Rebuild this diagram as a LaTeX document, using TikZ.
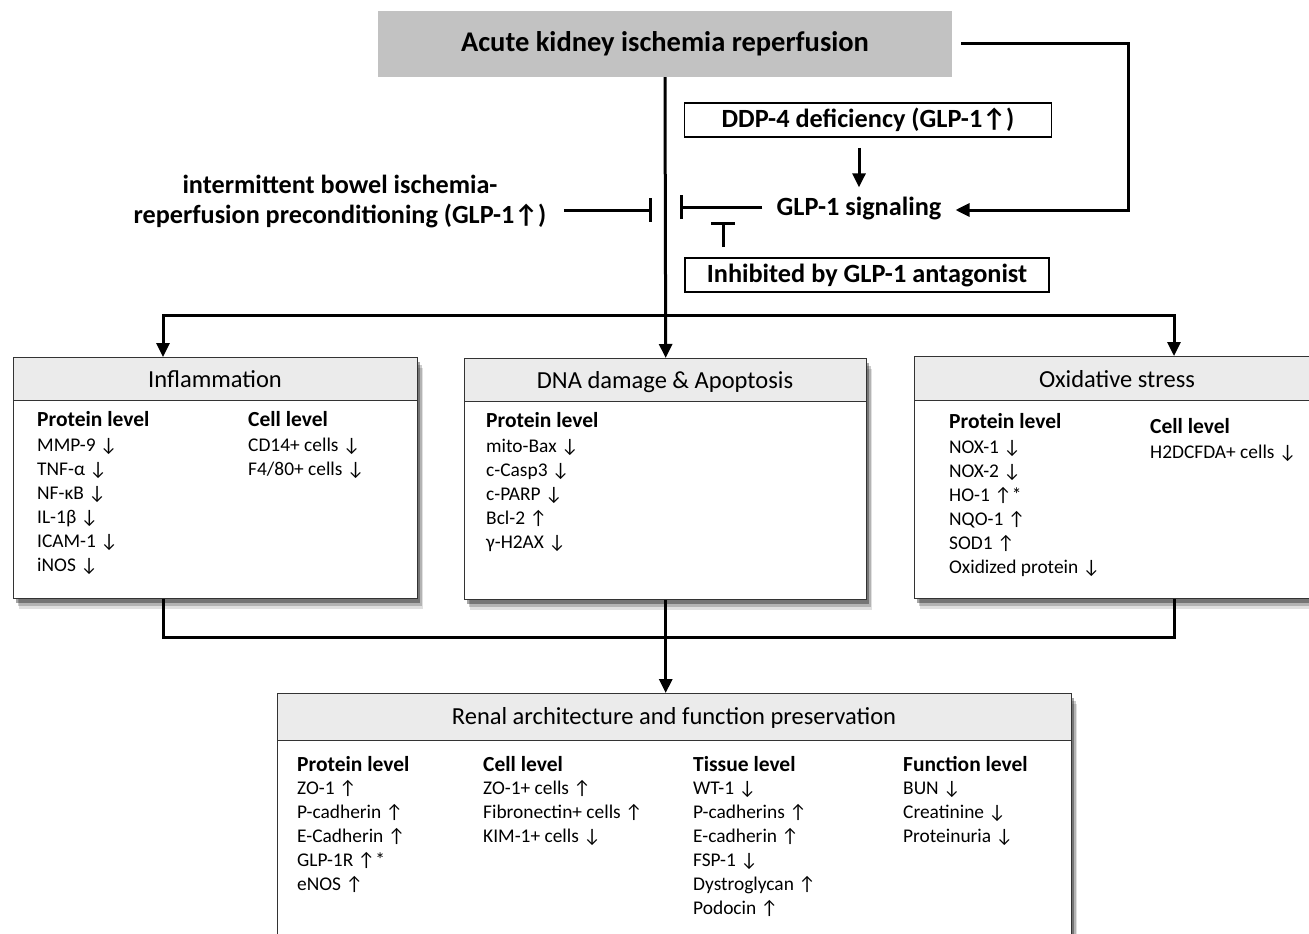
\documentclass[tikz,border=0pt]{standalone}
\usepackage{fontspec}
\setmainfont{Carlito}
\usetikzlibrary{arrows.meta,shadows}
\newcommand\dnarr{\char"2193}
\newcommand\uparr{\char"2191}
\newcommand\mkcol[6]{%
  \node[lvl] (#1h) at (#2,#3) {#5};
  \foreach \t [count=\i] in {#6} {\node[itm] (#1\i) at (#2,{#4+24*(\i-1)}) {\t};}%
}
\begin{document}
\begin{tikzpicture}[x=1pt,y=-1pt,
  conn/.style={line width=3pt, draw=black},
  arrowed/.style={-{Triangle[width=13pt,length=14pt]}},
  inhib/.style={-{Bar[width=24pt]}},
  panel/.style={draw=black!80, line width=1.4pt, fill=white, inner sep=0pt,
     drop shadow={shadow xshift=5pt, shadow yshift=-10pt, opacity=0.12, fill=black},
     drop shadow={shadow xshift=4pt, shadow yshift=-7pt, opacity=0.2, fill=black},
     drop shadow={shadow xshift=2pt, shadow yshift=-4pt, opacity=0.35, fill=black}},
  head/.style={draw=black!80, line width=1.4pt, fill=black!8, inner sep=0pt},
  ttl/.style={anchor=base, inner sep=0pt, font=\fontsize{24.5}{28}\selectfont},
  lvl/.style={anchor=base west, inner sep=0pt, font=\bfseries\fontsize{21.5}{24}\selectfont},
  itm/.style={anchor=base west, inner sep=0pt, font=\fontsize{19.4}{22}\selectfont},
  bbox/.style={draw=black, line width=1.6pt, inner sep=0pt, font=\bfseries\fontsize{26.3}{30}\selectfont}
]
\useasboundingbox (0,0) rectangle (1309,934);
\clip (0,0) rectangle (1309,934);

% top
\node[fill=black!24, minimum width=574pt, minimum height=66pt, inner sep=0pt,
      font=\bfseries\fontsize{28.5}{32}\selectfont] (akir) at (665,44) {Acute kidney ischemia reperfusion};
\node[bbox, minimum width=367pt, minimum height=34pt] (ddp) at (868,120) {DDP-4 deficiency (GLP-1\uparr)};
\node[inner xsep=14pt, inner ysep=3pt, font=\bfseries\fontsize{26.3}{30}\selectfont] (glp) at (859,208) {GLP-1 signaling};
\node[bbox, minimum width=364pt, minimum height=34pt] (anta) at (867,275) {Inhibited by GLP-1 antagonist};
\node[align=center, font=\bfseries\fontsize{26.2}{30}\selectfont] (ibip) at (340,202)
  {intermittent bowel ischemia-\\reperfusion preconditioning (GLP-1\uparr)};

% panels
\node[panel, anchor=north west, minimum width=404pt, minimum height=241pt] (infl) at (13,357) {};
\node[head, anchor=north west, minimum width=404pt, minimum height=43pt] (inflH) at (13,357) {};
\node[ttl] (inflT) at (215,387) {Inflammation};
\node[panel, anchor=north west, minimum width=402pt, minimum height=241pt] (dna) at (464,358) {};
\node[head, anchor=north west, minimum width=402pt, minimum height=43pt] (dnaH) at (464,358) {};
\node[ttl] (dnaT) at (665,388) {DNA damage \& Apoptosis};
\node[panel, anchor=north west, minimum width=406pt, minimum height=242pt] (ox) at (914,356) {};
\node[head, anchor=north west, minimum width=406pt, minimum height=44pt] (oxH) at (914,356) {};
\node[ttl] (oxT) at (1117,387) {Oxidative stress};
\node[panel, anchor=north west, minimum width=794pt, minimum height=270pt] (renal) at (277,693) {};
\node[head, anchor=north west, minimum width=794pt, minimum height=47pt] (renalH) at (277,693) {};
\node[ttl] (renalT) at (674,724) {Renal architecture and function preservation};

% contents
\mkcol{ip}{37}{426}{451}{Protein level}{MMP-9 \dnarr, TNF-α \dnarr, NF-κB \dnarr, IL-1β \dnarr, ICAM-1 \dnarr, iNOS \dnarr}
\mkcol{ic}{248}{426}{451}{Cell level}{CD14+ cells \dnarr, {F4/80+ cells \dnarr}}
\mkcol{dp}{486}{427}{452}{Protein level}{mito-Bax \dnarr, c-Casp3 \dnarr, c-PARP \dnarr, Bcl-2 \uparr, γ-H2AX \dnarr}
\mkcol{op}{949}{428}{453}{Protein level}{NOX-1 \dnarr, NOX-2 \dnarr, HO-1 \uparr*, NQO-1 \uparr, SOD1 \uparr, Oxidized protein \dnarr}
\mkcol{oc}{1150}{433}{458}{Cell level}{H2DCFDA+ cells \dnarr}
\mkcol{rp}{297}{771}{794}{Protein level}{ZO-1 \uparr, P-cadherin \uparr, E-Cadherin \uparr, GLP-1R \uparr*, eNOS \uparr}
\mkcol{rc}{483}{771}{794}{Cell level}{ZO-1+ cells \uparr, Fibronectin+ cells \uparr, KIM-1+ cells \dnarr}
\mkcol{rt}{693}{771}{794}{Tissue level}{WT-1 \dnarr, P-cadherins \uparr, E-cadherin \uparr, FSP-1 \dnarr, Dystroglycan \uparr, Podocin \uparr}
\mkcol{rf}{903}{771}{794}{Function level}{BUN \dnarr, Creatinine \dnarr, Proteinuria \dnarr}

% connectors
\coordinate (hub) at (665,315);
\coordinate (inflin) at ([xshift=150pt]infl.north west);
\coordinate (oxin) at ([xshift=260pt]ox.north west);
\coordinate (inflout) at ([xshift=150pt]infl.south west);
\coordinate (oxout) at ([xshift=260pt]ox.south west);
\coordinate (bhub) at (665,637);
\draw[conn, arrowed] (akir.south) -- (dna.north);
\draw[conn, arrowed] (hub) -| (inflin);
\draw[conn, arrowed] (hub) -| (oxin);
\draw[conn] (inflout) |- (bhub);
\draw[conn] (oxout) |- (bhub);
\draw[conn, arrowed] (dna.south) -- (dna.south |- renal.north);

\coordinate (r1) at (1128,210);
\draw[conn, arrowed] ([xshift=9pt]akir.east) -| (r1) -- (glp.east |- r1);
\draw[conn, arrowed, shorten <=10pt, shorten >=6pt] (glp.north |- ddp.south) -- (glp.north);
\coordinate (bar1) at (680,207);
\draw[conn, inhib] (glp.west |- bar1) -- (bar1);
\coordinate (bar2) at (723,222);
\draw[conn, inhib, shorten <=10pt] (anta.north -| bar2) -- (bar2);
\coordinate (bar0) at (652,210);
\draw[conn, inhib, shorten <=14pt] (ibip.east |- bar0) -- (bar0);
\end{tikzpicture}
\end{document}
